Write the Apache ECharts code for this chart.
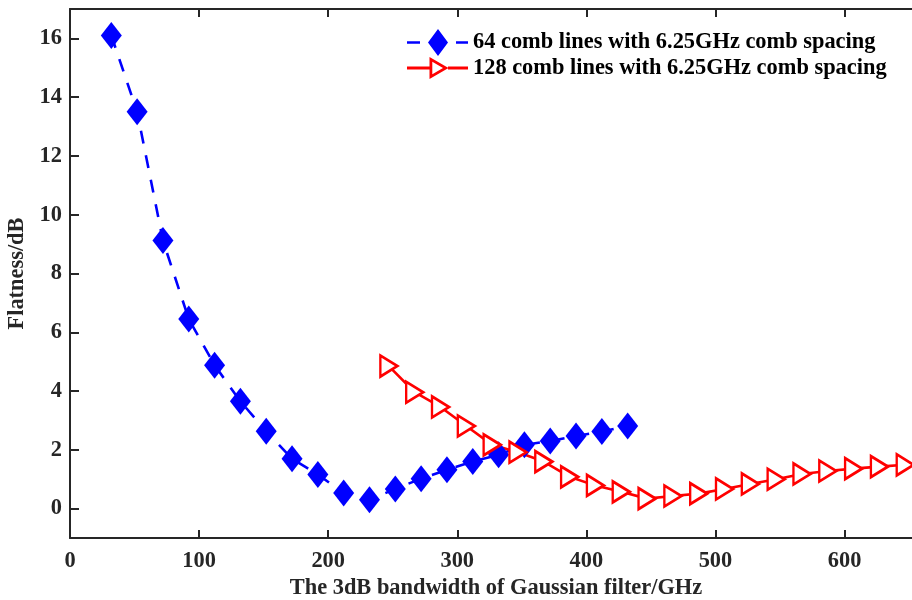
<!DOCTYPE html>
<html>
<head>
<meta charset="utf-8">
<script src="https://cdn.jsdelivr.net/npm/echarts@6/dist/echarts.min.js"></script>
<style>
html,body{margin:0;padding:0;background:#fff;}
#chart{width:912px;height:600px;}
</style>
</head>
<body>
<div id="chart"></div>
<script>
// ---- data ----
const series64Name = '64 comb lines with 6.25GHz comb spacing';
const series128Name = '128 comb lines with 6.25GHz comb spacing';
const x64 = [32, 52, 72, 92, 112, 132, 152, 172, 192, 212, 232, 252, 272, 292, 312, 332, 352, 372, 392, 412, 432];
const y64 = [16.1, 13.5, 9.12, 6.45, 4.88, 3.65, 2.63, 1.7, 1.16, 0.53, 0.3, 0.67, 1.02, 1.32, 1.6, 1.83, 2.17, 2.3, 2.47, 2.62, 2.81];
const x128 = [247, 267, 287, 307, 327, 347, 367, 387, 407, 427, 447, 467, 487, 507, 527, 547, 567, 587, 607, 627, 647];
const y128 = [4.85, 3.96, 3.46, 2.81, 2.17, 1.92, 1.6, 1.08, 0.79, 0.57, 0.34, 0.43, 0.51, 0.67, 0.84, 1.0, 1.18, 1.28, 1.36, 1.43, 1.49];
const xTicks = [0, 100, 200, 300, 400, 500, 600];
const yTicks = [0, 2, 4, 6, 8, 10, 12, 14, 16];
const xTitle = 'The 3dB bandwidth of Gaussian filter/GHz';
const yTitle = 'Flatness/dB';

const FONT = '"Times New Roman", "Liberation Serif", serif';
const AX = '#262626';
const FS = 22.4;

const pts64 = x64.map((x, i) => [x, y64[i]]);
const pts128 = x128.map((x, i) => [x, y128[i]]);

const iconBlue = 'path://M0,12.2L13,12.2L13,14.8L0,14.8Z M31,0L41,13.5L31,27L21,13.5Z M49,12.2L61,12.2L61,14.8L49,14.8Z';
const iconRed = 'path://M0,9.6L23,9.6L23,12.4L0,12.4Z M22.5,0L41.5,11L22.5,22Z M25.3,4.8L25.3,17.2L36,11Z M41,9.6L61,9.6L61,12.4L41,12.4Z';

const axisCommon = {
  type: 'value',
  splitLine: { show: false },
  axisLine: { show: true, onZero: false, lineStyle: { color: AX, width: 2 } }
};

const chart = echarts.init(document.getElementById('chart'), null, { renderer: 'canvas' });
chart.setOption({
  animation: false,
  backgroundColor: '#fff',
  grid: { left: 70, top: 9, right: -10, bottom: 62, containLabel: false, outerBoundsMode: 'none' },
  legend: {
    left: 407, top: 29, padding: 0, orient: 'vertical',
    itemWidth: 61, itemHeight: 27, itemGap: 1,
    textStyle: { fontFamily: FONT, fontWeight: 'bold', fontSize: FS, color: '#000' },
    data: [
      { name: series64Name, icon: iconBlue, itemStyle: { color: '#0000ff', borderWidth: 0 } },
      { name: series128Name, icon: iconRed, itemStyle: { color: '#ff0000', borderWidth: 0 } }
    ]
  },
  xAxis: [
    Object.assign({}, axisCommon, {
      min: 0, max: 660, position: 'bottom',
      name: xTitle, nameLocation: 'middle', nameGap: 38,
      nameTextStyle: { fontFamily: FONT, fontWeight: 'bold', fontSize: FS, color: AX },
      axisTick: { show: true, inside: true, length: 8, customValues: xTicks, lineStyle: { color: AX, width: 2 } },
      axisLabel: { show: true, margin: 12, customValues: xTicks, fontFamily: FONT, fontWeight: 'bold', fontSize: FS, color: AX }
    }),
    Object.assign({}, axisCommon, {
      min: 0, max: 660, position: 'top',
      axisTick: { show: true, inside: true, length: 8, customValues: xTicks, lineStyle: { color: AX, width: 2 } },
      axisLabel: { show: false }
    })
  ],
  yAxis: [
    Object.assign({}, axisCommon, {
      min: -1, max: 17, position: 'left',
      name: yTitle, nameLocation: 'middle', nameGap: 36, nameRotate: 90,
      nameTextStyle: { fontFamily: FONT, fontWeight: 'bold', fontSize: FS, color: AX },
      axisTick: { show: true, inside: true, length: 9, customValues: yTicks, lineStyle: { color: AX, width: 2 } },
      axisLabel: { show: true, margin: 8, customValues: yTicks, fontFamily: FONT, fontWeight: 'bold', fontSize: FS, color: AX }
    }),
    Object.assign({}, axisCommon, {
      min: -1, max: 17, position: 'right',
      axisTick: { show: true, inside: true, length: 9, customValues: yTicks, lineStyle: { color: AX, width: 2 } },
      axisLabel: { show: false }
    })
  ],
  series: [
    {
      name: series64Name, type: 'line', xAxisIndex: 0, yAxisIndex: 0,
      data: pts64,
      symbol: 'diamond', symbolSize: [21, 27],
      lineStyle: { color: '#0000ff', width: 2.6, type: [13, 12] },
      itemStyle: { color: '#0000ff' }
    },
    {
      name: series128Name, type: 'line', xAxisIndex: 0, yAxisIndex: 0,
      data: pts128,
      symbol: 'triangle', symbolSize: [21, 17], symbolRotate: -90,
      lineStyle: { color: '#ff0000', width: 2.6 },
      itemStyle: { color: '#ffffff', borderColor: '#ff0000', borderWidth: 2.6 }
    }
  ]
});
</script>
</body>
</html>
